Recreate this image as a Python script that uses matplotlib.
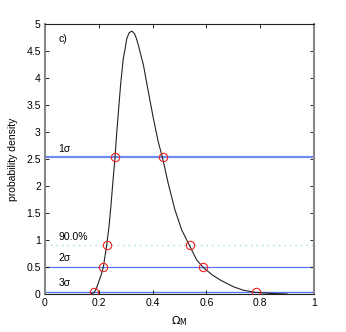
"""
Posterior probability density of Omega_M with confidence levels
"""
import matplotlib
matplotlib.use("Agg")
import matplotlib.pyplot as pp

pp.rcParams['font.family'] = ['Liberation Sans', 'DejaVu Sans']

# density curve
omega = [0.170, 0.183, 0.190, 0.198, 0.208, 0.217, 0.229, 0.238, 0.245, 0.252,
         0.260, 0.266, 0.273, 0.281, 0.291, 0.297, 0.304, 0.313, 0.323, 0.333,
         0.340, 0.347, 0.366, 0.384, 0.403, 0.421, 0.4375, 0.458, 0.483, 0.508,
         0.539, 0.564, 0.589, 0.620, 0.651, 0.700, 0.737, 0.783, 0.840, 0.900]
density = [0.00, 0.03, 0.09, 0.20, 0.34, 0.50, 0.89, 1.25, 1.62, 2.05,
           2.51, 2.94, 3.38, 3.87, 4.36, 4.52, 4.73, 4.84, 4.87, 4.82,
           4.73, 4.61, 4.24, 3.75, 3.25, 2.82, 2.51, 2.05, 1.56, 1.19,
           0.88, 0.63, 0.49, 0.36, 0.26, 0.135, 0.07, 0.03, 0.01, 0.00]

# confidence levels (density thresholds) and their crossing points
levels = [2.53, 0.90, 0.50, 0.04]
level_names = ["1\u03c3", "90.0%", "2\u03c3", "3\u03c3"]
cross_lo = [0.260, 0.229, 0.217, 0.183]
cross_hi = [0.4375, 0.539, 0.589, 0.783]

blue = '#5577ee'

fig = pp.figure(figsize=(3.46, 3.32), dpi=100)
ax = fig.add_axes([0.130, 0.1145, 0.7775, 0.813])

# level lines
ax.axhline(levels[0], color='#6f8cf5', lw=1.6, zorder=1)
ax.axhline(levels[1], color='#99e6dd', lw=1.0, ls=(0, (1, 3)), zorder=1)
ax.axhline(levels[2], color=blue, lw=0.9, zorder=1)
ax.axhline(levels[3], color=blue, lw=1.0, zorder=1)

ax.plot(omega, density, color='#222222', lw=0.8, zorder=2)
ax.plot(cross_lo + cross_hi, levels + levels, ls='none', marker='o', ms=6,
        mfc='none', mec='#ee2222', mew=0.8, zorder=3)

for lv, name in zip(levels, level_names):
    ax.text(0.05, lv + 0.07, name, fontsize=7.5, va='bottom', ha='left')
ax.text(0.05, 4.72, "c)", fontsize=7.5, ha='left', va='center')

ax.set_xlim(0, 1)
ax.set_ylim(0, 5)
ax.set_xticks([0, 0.2, 0.4, 0.6, 0.8, 1])
ax.set_xticklabels(["0", "0.2", "0.4", "0.6", "0.8", "1"])
ax.set_yticks([0, 0.5, 1, 1.5, 2, 2.5, 3, 3.5, 4, 4.5, 5])
ax.set_yticklabels(["0", "0.5", "1", "1.5", "2", "2.5", "3", "3.5", "4", "4.5", "5"])
ax.tick_params(direction='in', length=3, width=0.6, labelsize=7.5,
               top=True, right=True, pad=3)

for s in ['left', 'right']:
    ax.spines[s].set_color('#888888')
    ax.spines[s].set_linewidth(1.5)
for s in ['top', 'bottom']:
    ax.spines[s].set_color('#222222')
    ax.spines[s].set_linewidth(0.8)

ax.set_xlabel("$\\Omega_{\\rm M}$", fontsize=8, labelpad=4)
ax.set_ylabel("probability density", fontsize=7.5, labelpad=6)

fig.savefig("out.png", dpi=100)
